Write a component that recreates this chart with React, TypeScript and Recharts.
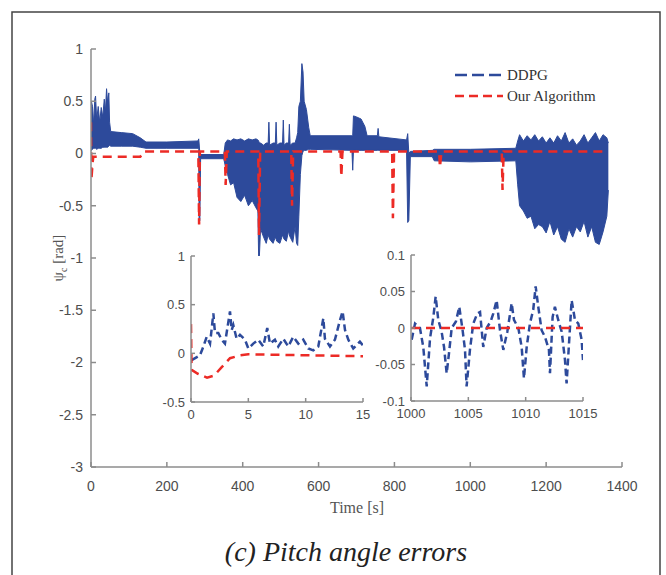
import { ComposedChart, LineChart, Line, Area, XAxis, YAxis } from 'recharts'

// main plot: time axis and value axis ticks
const MAIN_X_TICKS = [0, 200, 400, 600, 800, 1000, 1200, 1400]
const MAIN_Y_TICKS = [-3, -2.5, -2, -1.5, -1, -0.5, 0, 0.5, 1]

// DDPG error is very dense noise, kept as its min/max envelope over time
const DDPG_T = [
  0, 1, 4, 7, 10, 12, 15, 19, 23, 27, 31, 35, 38, 41, 44, 47, 49, 52, 80, 110,
  130, 145, 200, 282, 284, 285, 287, 289, 350, 354, 360, 368, 376, 385, 395, 405, 415, 425, 435, 440,
  442, 444, 447, 455, 462, 467, 469, 471, 480, 486, 488, 490, 498, 505, 507, 509, 515, 521, 523, 525,
  532, 538, 542, 545, 548, 552, 556, 559, 562, 568, 574, 578, 688, 690, 692, 700, 712, 722, 728, 755,
  757, 759, 832, 835, 838, 842, 900, 905, 1000, 1120, 1125, 1130, 1140, 1150, 1160, 1170, 1180, 1190, 1200, 1210,
  1220, 1230, 1240, 1250, 1260, 1270, 1280, 1290, 1300, 1310, 1320, 1330, 1340, 1350, 1360, 1364,
]
const DDPG_LO = [
  0.05, 0.03, 0.04, 0.05, 0.05, 0.05, 0.04, 0.05, 0.05, 0.05, 0.06, 0.06, 0.06, 0.06, 0.06, 0.07, 0.08, 0.07, 0.07, 0.07,
  0.06, 0.05, 0.05, 0.05, 0.04, -0.66, -0.64, -0.05, -0.05, -0.12, -0.2, -0.3, -0.28, -0.42, -0.46, -0.4, -0.5, -0.45, -0.52, -0.55,
  -1.0, -0.98, -0.72, -0.8, -0.86, -0.78, -0.8, -0.82, -0.86, -0.8, -0.82, -0.84, -0.86, -0.78, -0.8, -0.82, -0.84, -0.74, -0.78, -0.8,
  -0.85, -0.7, -0.86, -0.88, -0.6, -0.2, -0.02, 0.02, 0.03, 0.03, 0.04, 0.04, 0.03, -0.16, 0.03, 0.03, 0.03, 0.03, 0.03, 0.03,
  0.03, 0.03, 0.03, -0.66, -0.64, -0.03, -0.03, -0.07, -0.08, -0.07, -0.3, -0.5, -0.55, -0.62, -0.6, -0.72, -0.68, -0.7, -0.76, -0.65,
  -0.78, -0.7, -0.82, -0.85, -0.72, -0.8, -0.7, -0.75, -0.65, -0.8, -0.7, -0.85, -0.87, -0.75, -0.6, -0.35,
]
const DDPG_HI = [
  0.25, 0.5, 0.45, 0.28, 0.52, 0.55, 0.32, 0.45, 0.3, 0.44, 0.35, 0.52, 0.4, 0.62, 0.48, 0.58, 0.3, 0.21, 0.2, 0.19,
  0.15, 0.11, 0.11, 0.12, 0.14, 0.1, 0.0, -0.01, -0.01, 0.1, 0.13, 0.12, 0.14, 0.13, 0.14, 0.12, 0.14, 0.13, 0.14, 0.13,
  0.12, 0.1, 0.1, 0.08, 0.1, 0.1, 0.3, 0.08, 0.1, 0.1, 0.3, 0.08, 0.1, 0.1, 0.32, 0.08, 0.1, 0.1, 0.28, 0.08,
  0.1, 0.1, 0.15, 0.2, 0.45, 0.5, 0.86, 0.78, 0.5, 0.42, 0.25, 0.17, 0.17, 0.17, 0.36, 0.35, 0.33, 0.26, 0.17, 0.17,
  0.24, 0.16, 0.13, 0.19, 0.0, 0.02, 0.03, 0.04, 0.04, 0.05, 0.12, 0.18, 0.12, 0.17, 0.13, 0.18, 0.12, 0.16, 0.1, 0.15,
  0.1, 0.17, 0.12, 0.2, 0.1, 0.14, 0.08, 0.12, 0.18, 0.1, 0.15, 0.2, 0.12, 0.18, 0.15, 0.1,
]

// our algorithm, main plot
const OURS_T = [0, 1, 4, 6, 130, 140, 283, 285, 287, 353, 355, 358, 441, 443, 446, 528, 530, 533, 658, 660, 663, 794, 796, 799, 918, 920, 924, 1083, 1085, 1088, 1364]
const OURS_V = [0.3, -0.25, -0.1, -0.03, -0.03, 0.02, 0.02, -0.68, 0.02, 0.02, -0.3, 0.02, 0.02, -0.78, 0.02, 0.02, -0.5, 0.02, 0.02, -0.22, 0.02, 0.02, -0.62, 0.02, 0.02, -0.13, 0.02, 0.02, -0.35, 0.02, 0.02]

// inset 1: first 15 s
const IN1_X_TICKS = [0, 5, 10, 15]
const IN1_Y_TICKS = [-0.5, 0, 0.5, 1]
const IN1_DDPG_T = [0.06, 0.78, 1.08, 1.37, 1.66, 1.95, 2.09, 2.38, 2.67, 2.96, 3.4, 3.55, 3.69, 3.98, 4.27, 4.71, 5.0, 5.43, 5.87, 6.3, 6.65, 6.89, 7.32, 7.61, 8.05, 8.48, 8.92, 9.36, 9.79, 10.23, 10.66, 11.1, 11.39, 11.54, 11.68, 12.12, 12.55, 12.99, 13.22, 13.43, 13.72, 14.15, 14.73, 15]
const IN1_DDPG_V = [-0.07, -0.02, 0.07, 0.17, 0.1, 0.41, 0.21, 0.21, 0.14, 0.1, 0.43, 0.24, 0.29, 0.15, 0.19, 0.14, 0.05, 0.1, 0.14, 0.07, 0.26, 0.1, 0.14, 0.07, 0.15, 0.07, 0.17, 0.1, 0.14, 0.05, 0.03, 0.07, 0.26, 0.36, 0.15, 0.07, 0.14, 0.34, 0.43, 0.24, 0.14, 0.05, 0.12, 0.08]
const IN1_OURS_T = [0, 0.05, 0.6, 1.4, 2.0, 2.7, 3.4, 4.3, 5, 15]
const IN1_OURS_V = [0.3, -0.17, -0.21, -0.25, -0.23, -0.14, -0.05, -0.02, -0.01, -0.03]

// inset 2: 1000 - 1015 s
const IN2_X_TICKS = [1000, 1005, 1010, 1015]
const IN2_Y_TICKS = [-0.1, -0.05, 0, 0.05, 0.1]
const IN2_DDPG_T = [1000.06, 1000.35, 1000.78, 1001.07, 1001.22, 1001.37, 1001.66, 1001.95, 1002.15, 1002.38, 1002.67, 1002.88, 1003.11, 1003.31, 1003.55, 1003.92, 1004.21, 1004.5, 1004.71, 1004.85, 1005.14, 1005.43, 1005.78, 1006.02, 1006.3, 1006.6, 1006.95, 1007.18, 1007.47, 1007.76, 1008.05, 1008.4, 1008.78, 1008.98, 1009.36, 1009.65, 1009.85, 1010.09, 1010.37, 1010.66, 1010.87, 1011.1, 1011.39, 1011.68, 1012.03, 1012.12, 1012.35, 1012.55, 1012.84, 1013.14, 1013.43, 1013.57, 1013.8, 1014.01, 1014.3, 1014.59, 1014.88, 1015]
const IN2_DDPG_V = [-0.016, 0.006, 0.0, -0.026, -0.053, -0.08, -0.014, 0.015, 0.043, 0.011, -0.005, -0.026, -0.062, -0.035, 0.0, 0.009, 0.029, -0.003, -0.03, -0.08, -0.03, 0.006, 0.02, 0.022, -0.026, 0.0, 0.009, 0.02, 0.038, -0.003, -0.03, -0.005, 0.034, 0.011, 0.0, -0.026, -0.069, -0.026, 0.006, 0.025, 0.057, 0.029, -0.003, -0.012, -0.03, -0.062, 0.015, 0.029, 0.011, -0.005, -0.044, -0.076, -0.016, 0.038, 0.011, 0.006, -0.016, -0.044]
const IN2_OURS_T = [1000, 1015]
const IN2_OURS_V = [0, 0]

const BLUE = '#2d4a9b'
const RED = '#ec2b26'
const AXIS = '#8c8c8c'
const SANS = '"Liberation Sans", Arial, sans-serif'
const SERIF = '"Liberation Serif", "Times New Roman", serif'

const ddpgRows = DDPG_T.map((t, i) => ({ t, band: [DDPG_LO[i], DDPG_HI[i]] }))
const oursRows = OURS_T.map((t, i) => ({ t, v: OURS_V[i] }))
const in1Ddpg = IN1_DDPG_T.map((t, i) => ({ t, v: IN1_DDPG_V[i] }))
const in1Ours = IN1_OURS_T.map((t, i) => ({ t, v: IN1_OURS_V[i] }))
const in2Ddpg = IN2_DDPG_T.map((t, i) => ({ t, v: IN2_DDPG_V[i] }))
const in2Ours = IN2_OURS_T.map((t, i) => ({ t, v: IN2_OURS_V[i] }))

const noLabel = () => <g />

function Inset({ left, top, xDomain, yDomain, xTicks, yTicks, ddpg, ours }: any) {
  const w = 172
  const h = 146
  const tickStyle = { fill: '#4d4d4d', fontSize: 13, fontFamily: SANS }
  return (
    <>
      <div style={{ position: 'absolute', left, top, width: w, height: h, background: '#fff' }} />
      <div style={{ position: 'absolute', left: left - 40, top: top - 6 }}>
        <LineChart width={40 + w + 22} height={6 + h + 30} margin={{ top: 6, right: 22, bottom: 0, left: 0 }}>
          <XAxis xAxisId="b" dataKey="t" type="number" domain={xDomain} ticks={xTicks} interval={0} allowDataOverflow
            height={30} tickSize={-4} tickMargin={12} stroke={AXIS} strokeWidth={1.5} tick={tickStyle} />
          <XAxis xAxisId="t" orientation="top" dataKey="t" type="number" domain={xDomain} ticks={xTicks} interval={0}
            height={0} tickSize={-4} stroke={AXIS} strokeWidth={1.5} tick={noLabel} />
          <YAxis yAxisId="l" type="number" domain={yDomain} ticks={yTicks} interval={0} allowDataOverflow
            width={40} tickSize={-4} tickMargin={10} stroke={AXIS} strokeWidth={1.5} tick={tickStyle} />
          <YAxis yAxisId="r" orientation="right" type="number" domain={yDomain} ticks={yTicks} interval={0}
            width={0} tickSize={-4} stroke={AXIS} strokeWidth={1.5} tick={noLabel} />
          <Line xAxisId="b" yAxisId="l" data={ddpg} dataKey="v" stroke={BLUE} strokeWidth={2.5} strokeDasharray="7 4"
            dot={false} activeDot={false} isAnimationActive={false} />
          <Line xAxisId="b" yAxisId="l" data={ours} dataKey="v" stroke={RED} strokeWidth={2.5} strokeDasharray="9 6"
            dot={false} activeDot={false} isAnimationActive={false} />
        </LineChart>
      </div>
    </>
  )
}

export default function App() {
  const tickStyle = { fill: '#4d4d4d', fontSize: 14, fontFamily: SANS }
  return (
    <div style={{ position: 'absolute', left: 0, top: 0, width: 666, height: 575, background: '#fff', overflow: 'hidden' }}>
      <div style={{ position: 'absolute', left: 0, top: 0 }}>
        <ComposedChart width={666} height={575} margin={{ top: 49, right: 44, bottom: 78, left: 51 }}>
          <XAxis xAxisId="b" dataKey="t" type="number" domain={[0, 1400]} ticks={MAIN_X_TICKS} interval={0} allowDataOverflow
            height={30} tickSize={-5} tickMargin={19} stroke={AXIS} strokeWidth={1.5} tick={tickStyle} />
          <XAxis xAxisId="t" orientation="top" dataKey="t" type="number" domain={[0, 1400]} ticks={MAIN_X_TICKS} interval={0}
            height={0} tickSize={-5} stroke={AXIS} strokeWidth={1.5} tick={noLabel} />
          <YAxis yAxisId="l" type="number" domain={[-3, 1]} ticks={MAIN_Y_TICKS} interval={0} allowDataOverflow
            width={40} tickSize={-5} tickMargin={13} stroke={AXIS} strokeWidth={1.5} tick={tickStyle} />
          <YAxis yAxisId="r" orientation="right" type="number" domain={[-3, 1]} ticks={MAIN_Y_TICKS} interval={0}
            width={0} tickSize={-5} stroke={AXIS} strokeWidth={1.5} tick={noLabel} />
          <Area xAxisId="b" yAxisId="l" data={ddpgRows} dataKey="band" type="linear" stroke={BLUE} strokeWidth={1}
            fill={BLUE} fillOpacity={1} dot={false} activeDot={false} isAnimationActive={false} />
          <Line xAxisId="b" yAxisId="l" data={oursRows} dataKey="v" type="linear" stroke={RED} strokeWidth={2.5}
            strokeDasharray="9 6" dot={false} activeDot={false} isAnimationActive={false} />
        </ComposedChart>
      </div>

      <Inset left={191} top={256} xDomain={[0, 15]} yDomain={[-0.5, 1]} xTicks={IN1_X_TICKS} yTicks={IN1_Y_TICKS}
        ddpg={in1Ddpg} ours={in1Ours} />
      <Inset left={411} top={255} xDomain={[1000, 1015]} yDomain={[-0.1, 0.1]} xTicks={IN2_X_TICKS} yTicks={IN2_Y_TICKS}
        ddpg={in2Ddpg} ours={in2Ours} />

      <svg width={666} height={575} style={{ position: 'absolute', left: 0, top: 0, pointerEvents: 'none' }}>
        <path d="M12,580 L12,12 L660,12 L660,580" fill="none" stroke="#444" strokeWidth={1.5} />
        {/* legend */}
        <line x1={455} y1={75} x2={503} y2={75} stroke={BLUE} strokeWidth={2.5} strokeDasharray="12 5" />
        <text x={507} y={80} fontFamily={SERIF} fontSize={15} fill="#333">DDPG</text>
        <line x1={455} y1={96} x2={503} y2={96} stroke={RED} strokeWidth={2.5} strokeDasharray="9 5" />
        <text x={507} y={101} fontFamily={SERIF} fontSize={15} fill="#333">Our Algorithm</text>
        {/* axis titles */}
        <text x={357} y={513} textAnchor="middle" fontFamily={SERIF} fontSize={16} fill="#555">Time [s]</text>
        <text transform="translate(63,258) rotate(-90)" textAnchor="middle" fontFamily={SERIF} fontSize={15} fill="#555">
          ψ<tspan fontSize={10} dy={4}>c</tspan><tspan dy={-4}> [rad]</tspan>
        </text>
        <text x={346} y={561} textAnchor="middle" fontFamily={SERIF} fontStyle="italic" fontSize={28} fill="#222">
          (c) Pitch angle errors
        </text>
      </svg>
    </div>
  )
}
